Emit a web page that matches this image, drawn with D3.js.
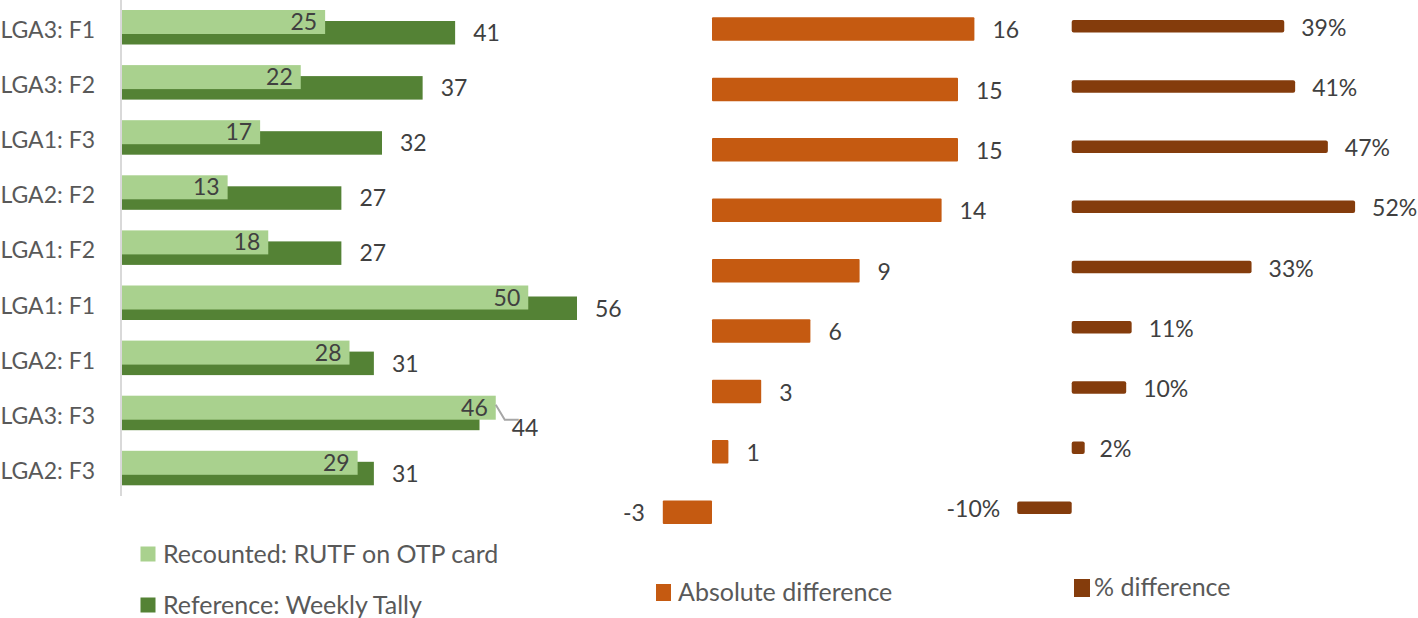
<!DOCTYPE html>
<html>
<head>
<meta charset="utf-8">
<script src="https://cdn.jsdelivr.net/npm/d3@7"></script>
<style>
  html, body { margin: 0; padding: 0; background: #ffffff; }
  svg { display: block; font-family: "Lato", "Open Sans", sans-serif; }
</style>
</head>
<body>
<svg id="chart" width="1418" height="618"></svg>
<script>
// ---------- data ----------
const categories = ["LGA3: F1", "LGA3: F2", "LGA1: F3", "LGA2: F2", "LGA1: F2", "LGA1: F1", "LGA2: F1", "LGA3: F3", "LGA2: F3"];
const recounted = [25, 22, 17, 13, 18, 50, 28, 46, 29];
const reference = [41, 37, 32, 27, 27, 56, 31, 44, 31];
const absDiff = [16, 15, 15, 14, 9, 6, 3, 1, -3];
const pctDiff = [39, 41, 47, 52, 33, 11, 10, 2, -10];
const seriesNames = ["Recounted: RUTF on OTP card", "Reference: Weekly Tally", "Absolute difference", "% difference"];

// ---------- style ----------
const C_LIGHT = "#A9D18E", C_DARK = "#548235", C_ABS = "#C55A11", C_PCT = "#843C0C";
const C_VAL = "#404040", C_CAT = "#595959";
const FS = 23, FS_LEG = 25;

const svg = d3.select("#chart");

// ================= LEFT PANEL =================
const xL = d3.scaleLinear().domain([0, 60]).range([122, 122 + 60 * 8.125]);
const yL = d3.scaleBand().domain(categories).range([0, 9 * 55.1]).padding(0);

const left = svg.append("g");
left.append("line")
  .attr("x1", 121).attr("x2", 121).attr("y1", 0).attr("y2", 496)
  .attr("stroke", "#D9D9D9").attr("stroke-width", 2);

left.selectAll("rect.ref").data(categories).join("rect")
  .attr("class", "ref")
  .attr("x", xL(0))
  .attr("y", d => yL(d) + 21)
  .attr("width", (d, i) => xL(reference[i]) - xL(0))
  .attr("height", 23.5)
  .attr("fill", C_DARK);

left.selectAll("rect.rec").data(categories).join("rect")
  .attr("class", "rec")
  .attr("x", xL(0))
  .attr("y", d => yL(d) + 10)
  .attr("width", (d, i) => xL(recounted[i]) - xL(0))
  .attr("height", 24)
  .attr("fill", C_LIGHT);

left.selectAll("text.cat").data(categories).join("text")
  .attr("class", "cat")
  .attr("x", 95)
  .attr("y", d => yL(d) + 30)
  .attr("dy", "0.35em")
  .attr("text-anchor", "end")
  .attr("font-size", FS)
  .attr("fill", C_CAT)
  .text(d => d);

left.selectAll("text.recv").data(categories).join("text")
  .attr("class", "recv")
  .attr("x", (d, i) => xL(recounted[i]) - 8)
  .attr("y", d => yL(d) + 22)
  .attr("dy", "0.35em")
  .attr("text-anchor", "end")
  .attr("font-size", FS)
  .attr("fill", C_VAL)
  .text((d, i) => recounted[i]);

left.selectAll("text.refv").data(categories).join("text")
  .attr("class", "refv")
  .attr("x", (d, i) => recounted[i] > reference[i] ? xL(recounted[i]) + 16 : xL(reference[i]) + 18)
  .attr("y", (d, i) => yL(d) + (recounted[i] > reference[i] ? 42 : 33))
  .attr("dy", "0.35em")
  .attr("text-anchor", "start")
  .attr("font-size", FS)
  .attr("fill", C_VAL)
  .text((d, i) => reference[i]);

categories.forEach((c, i) => {
  if (recounted[i] > reference[i]) {
    const x0 = xL(recounted[i]), y0 = yL(c) + 19;
    left.append("polyline")
      .attr("points", `${x0},${y0} ${x0 + 9},${y0 + 15} ${x0 + 23},${y0 + 15}`)
      .attr("fill", "none").attr("stroke", "#A6A6A6").attr("stroke-width", 2);
  }
});

const legL = svg.append("g");
[[C_LIGHT, seriesNames[0], 554], [C_DARK, seriesNames[1], 605]].forEach(([col, name, cy]) => {
  legL.append("rect").attr("x", 140.5).attr("y", cy - 7.5).attr("width", 15).attr("height", 15).attr("fill", col);
  legL.append("text").attr("x", 163).attr("y", cy).attr("dy", "0.35em")
    .attr("font-size", FS_LEG).attr("fill", C_CAT).text(name);
});

// ================= MIDDLE PANEL =================
const idx = d3.range(absDiff.length);
const xM = d3.scaleLinear().domain([-4, 17]).range([712 - 4 * 16.4, 712 + 17 * 16.4]);
const yM = d3.scaleBand().domain(idx).range([0, 9 * 60.4]).padding(0);
const MH = 23.5, MT = 17.3;

const mid = svg.append("g");
mid.selectAll("rect").data(idx).join("rect")
  .attr("x", i => xM(Math.min(0, absDiff[i])))
  .attr("y", i => yM(i) + MT)
  .attr("width", i => Math.abs(xM(absDiff[i]) - xM(0)))
  .attr("height", MH)
  .attr("rx", 1)
  .attr("fill", C_ABS);

mid.selectAll("text").data(idx).join("text")
  .attr("x", i => absDiff[i] >= 0 ? xM(absDiff[i]) + 18 : xM(absDiff[i]) - 18)
  .attr("y", i => yM(i) + MT + MH / 2 + 1)
  .attr("dy", "0.35em")
  .attr("text-anchor", i => absDiff[i] >= 0 ? "start" : "end")
  .attr("font-size", FS)
  .attr("fill", C_VAL)
  .text(i => absDiff[i]);

const legM = svg.append("g");
legM.append("rect").attr("x", 656).attr("y", 584).attr("width", 15).attr("height", 17).attr("fill", C_ABS);
legM.append("text").attr("x", 678).attr("y", 592).attr("dy", "0.35em")
  .attr("font-size", FS_LEG).attr("fill", C_CAT).text(seriesNames[2]);

// ================= RIGHT PANEL =================
const xR = d3.scaleLinear().domain([-10, 52]).range([1071.7 - 10 * 5.45, 1071.7 + 52 * 5.45]);
const yR = d3.scaleBand().domain(idx).range([0, 9 * 60.2]).padding(0);
const RH = 12.5, RT = 20;

const right = svg.append("g");
right.selectAll("rect").data(idx).join("rect")
  .attr("x", i => xR(Math.min(0, pctDiff[i])))
  .attr("y", i => yR(i) + RT)
  .attr("width", i => Math.max(13, Math.abs(xR(pctDiff[i]) - xR(0))))
  .attr("height", RH)
  .attr("rx", 2)
  .attr("fill", C_PCT);

right.selectAll("text").data(idx).join("text")
  .attr("x", i => pctDiff[i] >= 0 ? xR(pctDiff[i]) + 17 : xR(pctDiff[i]) - 17)
  .attr("y", i => yR(i) + RT + RH / 2 + 1.5)
  .attr("dy", "0.35em")
  .attr("text-anchor", i => pctDiff[i] >= 0 ? "start" : "end")
  .attr("font-size", FS)
  .attr("fill", C_VAL)
  .text(i => pctDiff[i] + "%");

const legR = svg.append("g");
legR.append("rect").attr("x", 1074).attr("y", 579).attr("width", 16).attr("height", 18).attr("fill", C_PCT);
legR.append("text").attr("x", 1094).attr("y", 587).attr("dy", "0.35em")
  .attr("font-size", FS_LEG).attr("fill", C_CAT).text(seriesNames[3]);
</script>
</body>
</html>
